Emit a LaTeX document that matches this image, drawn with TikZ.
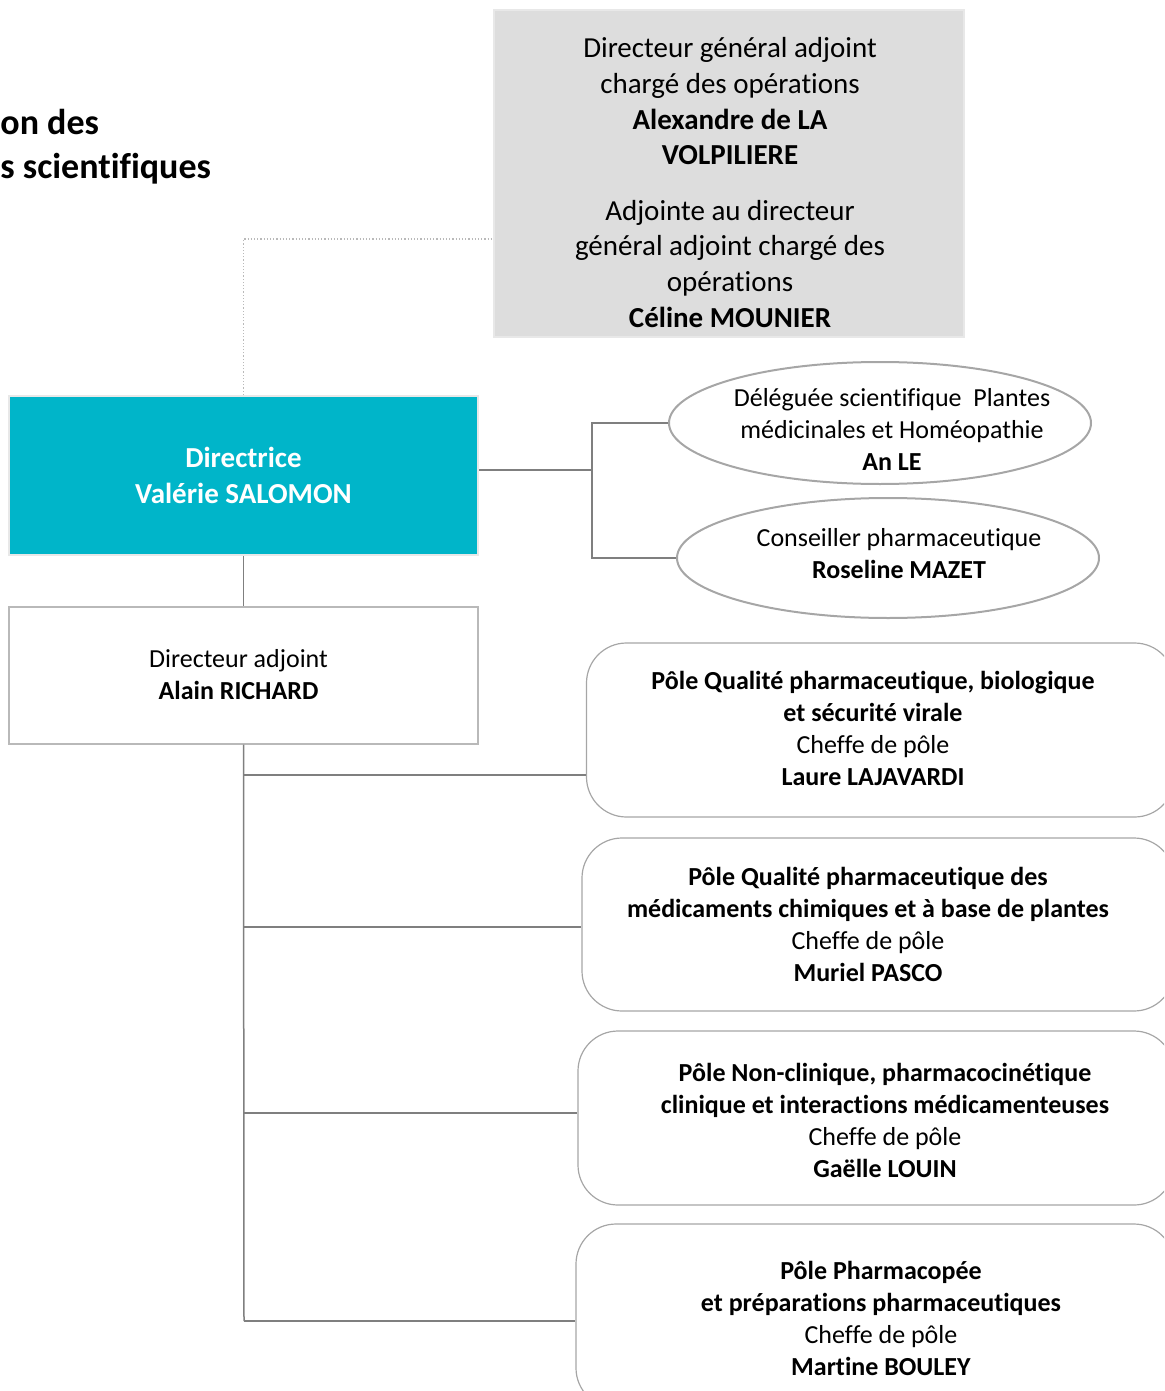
\documentclass[tikz,border=0pt]{standalone}
\usepackage{fontspec}
\setmainfont{Carlito}[Ligatures=NoCommon]
\usetikzlibrary{shapes.geometric,calc}
\definecolor{teal1}{HTML}{00B5C9}
\definecolor{greyfill}{HTML}{DDDDDD}
\definecolor{greyedge}{HTML}{E8E8E8}
\definecolor{lineg}{HTML}{7F7F7F}
\definecolor{boxg}{HTML}{A6A6A6}
\begin{document}
\begin{tikzpicture}[x=0.5pt,y=-0.5pt,
  txt/.style={font=\fontsize{13}{16}\selectfont, align=center, inner sep=0pt},
  bigtxt/.style={font=\fontsize{14.5}{17.8}\selectfont, align=center, inner sep=0pt},
  conn/.style={draw=lineg, line width=0.75pt},
  dotline/.style={draw=gray!55, densely dotted, line width=0.6pt},
  sqbox/.style={rectangle, inner sep=0pt},
  polebox/.style={rectangle, draw=boxg, line width=0.6pt, rounded corners=20pt, inner sep=0pt},
  ovalbox/.style={ellipse, draw=boxg, line width=1pt, inner sep=0pt}]
\useasboundingbox (0,0) rectangle (1164,1391);
\clip (0,0) rectangle (1164,1391);

% title (partially cut)
\node[anchor=west, align=left, inner sep=0pt, font=\fontsize{18}{22}\selectfont\bfseries] (title) at (0,147) {on des\\s scientifiques};

% top grey box
\node[sqbox, fill=greyfill, draw=greyedge, line width=1pt, minimum width=235pt, minimum height=163.5pt] (top) at (729,173.5) {};
\node[bigtxt] (toptxt) at (730,182.5) {Directeur général adjoint\\chargé des opérations\\\textbf{Alexandre de LA}\\\textbf{VOLPILIERE}\\[10pt]Adjointe au directeur\\général adjoint chargé des\\opérations\\\textbf{Céline MOUNIER}};

% Directrice
\node[sqbox, fill=teal1, draw=greyedge, line width=1pt, minimum width=234.5pt, minimum height=79.5pt, bigtxt, text=white, font=\fontsize{14.5}{17.8}\selectfont\bfseries] (dir) at (243.5,475.5) {Directrice\\Valérie SALOMON};

% Directeur adjoint
\node[sqbox, draw=gray!55, line width=0.6pt, minimum width=234.5pt, minimum height=68.5pt] (dadj) at (243.5,675.5) {};
\node[txt] (dadjtxt) at (238.5,675) {Directeur adjoint\\\textbf{Alain RICHARD}};

% ellipses
\node[ovalbox, minimum width=211pt, minimum height=61pt] (e1) at (880,423) {};
\node[txt] (e1txt) at (892,429) {Déléguée scientifique~~Plantes\\médicinales et Homéopathie\\\textbf{An LE}};
\node[ovalbox, minimum width=211pt, minimum height=60pt] (e2) at (888,558) {};
\node[txt] (e2txt) at (899,554) {Conseiller pharmaceutique\\\textbf{Roseline MAZET}};

% pole boxes
\node[polebox, minimum width=294pt, minimum height=87pt] (p1) at (880.5,730) {};
\node[txt] (p1txt) at (873,728) {\textbf{Pôle Qualité pharmaceutique, biologique}\\\textbf{et sécurité virale}\\Cheffe de pôle\\\textbf{Laure LAJAVARDI}};
\node[polebox, minimum width=296pt, minimum height=86.5pt] (p2) at (878,924.5) {};
\node[txt] (p2txt) at (868,924) {\textbf{Pôle Qualité pharmaceutique des}\\\textbf{médicaments chimiques et à base de plantes}\\Cheffe de pôle\\\textbf{Muriel PASCO}};
\node[polebox, minimum width=298pt, minimum height=87pt] (p3) at (876,1118) {};
\node[txt] (p3txt) at (885,1120) {\textbf{Pôle Non-clinique, pharmacocinétique}\\\textbf{clinique et interactions médicamenteuses}\\Cheffe de pôle\\\textbf{Gaëlle LOUIN}};
\node[polebox, minimum width=299pt, minimum height=92pt] (p4) at (875,1316) {};
\node[txt] (p4txt) at (881,1318) {\textbf{Pôle Pharmacopée}\\\textbf{et préparations pharmaceutiques}\\Cheffe de pôle\\\textbf{Martine BOULEY}};

% connectors
\coordinate (dl) at (494,239);
\draw[dotline] (dir.north) |- (top.west |- dl);

\coordinate (rx) at (592,0);
\coordinate (dy) at (0,470);
\draw[conn] (dir.east |- dy) -- (rx |- dy);
\draw[conn] (e1.west) -- (e1.west -| rx) -- (e2.west -| rx) -- (e2.west);

\draw[conn] (dir.south) -- (dadj.north);

\coordinate (b1) at (244,775);
\coordinate (b2) at (244,927);
\coordinate (b3) at (244,1113);
\coordinate (b4) at (244,1321);
\draw[conn] (dadj.south) -- (b4);
\draw[conn] (b1) -- (p1.west |- b1);
\draw[conn] (b2) -- (p2.west |- b2);
\draw[conn] (b3) -- (p3.west |- b3);
\draw[conn] (b4) -- (p4.west |- b4);
\end{tikzpicture}
\end{document}
